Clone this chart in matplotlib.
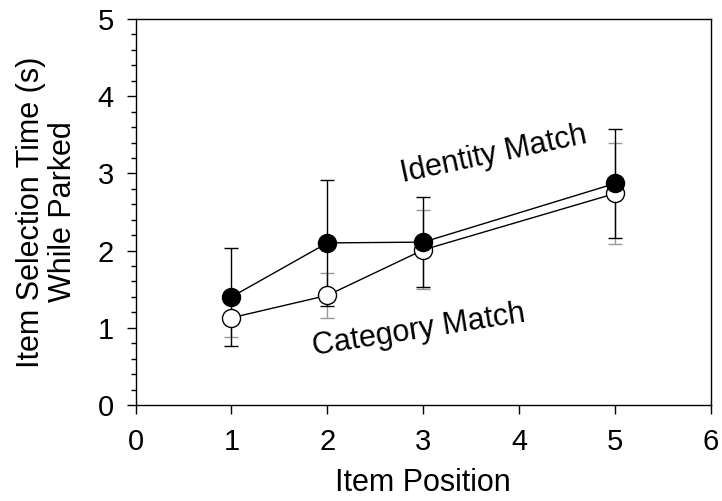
import matplotlib.pyplot as plt
from matplotlib.ticker import MultipleLocator

plt.rcParams['font.family'] = ['Liberation Sans', 'DejaVu Sans']

# item positions and mean selection times (s)
positions = [1, 2, 3, 5]
identity_mean = [1.40, 2.10, 2.11, 2.87]
identity_err = [0.64, 0.82, 0.58, 0.71]
category_mean = [1.13, 1.42, 2.01, 2.74]
category_err = [0.25, 0.29, 0.51, 0.65]

fig = plt.figure(figsize=(7.22, 5.01), dpi=100)
ax = fig.add_axes([0.1877, 0.1916, 0.7971, 0.7704])

# error bars first so the markers sit on top
ax.errorbar(positions, category_mean, yerr=category_err, fmt='none',
            ecolor='#999999', elinewidth=1.0, capsize=5, capthick=1.0, zorder=1)
ax.errorbar(positions, identity_mean, yerr=identity_err, fmt='none',
            ecolor='black', elinewidth=1.0, capsize=5, capthick=1.0, zorder=2)

ax.plot(positions, category_mean, '-o', color='black', lw=1.0,
        markersize=13, markerfacecolor='white', markeredgecolor='black',
        markeredgewidth=1.0, zorder=3)
ax.plot(positions, identity_mean, '-o', color='black', lw=1.0,
        markersize=13, markerfacecolor='black', markeredgecolor='black', zorder=4)

ax.text(3.73, 3.25, 'Identity Match', fontsize=22, rotation=12,
        rotation_mode='anchor', ha='center', va='center')
ax.text(2.95, 0.97, 'Category Match', fontsize=22, rotation=9,
        rotation_mode='anchor', ha='center', va='center')

ax.set_xlim(0, 6)
ax.set_ylim(0, 5)
ax.xaxis.set_major_locator(MultipleLocator(1))
ax.yaxis.set_major_locator(MultipleLocator(1))
ax.yaxis.set_minor_locator(MultipleLocator(0.2))
ax.tick_params(axis='both', which='major', direction='out', length=6.5,
               width=1.0, labelsize=21, top=False, right=False)
ax.tick_params(axis='x', which='major', pad=10)
ax.tick_params(axis='y', which='major', pad=9)
ax.tick_params(axis='y', which='minor', direction='out', length=3.5, width=1.0,
               right=False)
for s in ax.spines.values():
    s.set_linewidth(1.0)

ax.set_xlabel('Item Position', fontsize=22, labelpad=9)
ax.set_ylabel('Item Selection Time (s)\nWhile Parked', fontsize=22,
              linespacing=1.1)
ax.yaxis.set_label_coords(-0.10, 0.5)

fig.savefig('out.png', dpi=100)
